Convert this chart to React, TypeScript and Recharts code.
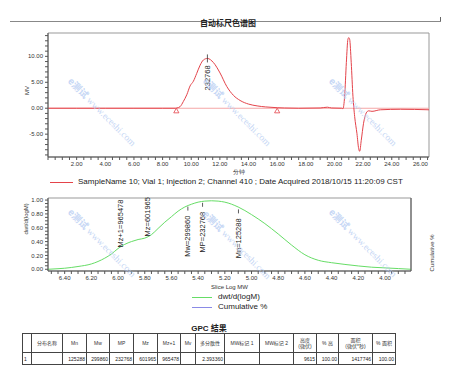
import React from 'react';
import { LineChart, Line, XAxis, YAxis, ReferenceArea, ReferenceLine, ReferenceDot } from 'recharts';

// chromatogram (minutes, mV)
const times = [0, 2, 4, 6, 8, 8.9, 9.0, 9.22, 9.45, 9.69, 9.92, 10.15, 10.38, 10.62, 10.85, 11.13, 11.55, 12.01, 12.48, 12.94, 13.41, 14.0, 14.6, 15.2, 16.0, 16.5, 17.5, 19.0, 19.5, 19.8, 20.5, 20.59, 20.71, 20.83, 20.94, 21.0, 21.06, 21.17, 21.29, 21.41, 21.57, 21.69, 21.76, 21.87, 22.03, 22.22, 22.38, 22.62, 23.2, 24.6, 26.6];
const mv = [0, 0, 0, 0, 0, 0, 0.05, 0.3, 1.3, 2.6, 4.3, 5.2, 6.7, 8.3, 9.3, 9.6, 8.8, 6.8, 4.2, 2.5, 1.5, 0.8, 0.45, 0.25, 0.1, 0.05, 0, 0.05, 0.2, 0.05, 0, -0.1, 2.3, 8.8, 13.3, 13.6, 13.3, 8.8, 2.3, -1.6, -4.9, -7.8, -8.3, -6.2, -2.9, -0.9, -0.5, -0.6, -0.3, -0.2, -0.3];
const peakLabels = [{ time: 11.13, mv: 9.6, text: '232768' }];
const baselineMarks = [8.96, 16.0];
const sampleLegend = 'SampleName 10; Vial 1; Injection 2; Channel 410 ; Date Acquired 2018/10/15 11:20:09 CST';

// MW distribution
const logM = [6.525, 6.45, 6.4, 6.3, 6.2, 6.1, 6.05, 6.0, 5.95, 5.9, 5.85, 5.8, 5.75, 5.7, 5.65, 5.6, 5.55, 5.5, 5.45, 5.4, 5.35, 5.3, 5.25, 5.2, 5.1, 5.0, 4.9, 4.8, 4.7, 4.6, 4.5, 4.4, 4.3, 4.2, 4.1, 4.0, 3.9, 3.805];
const dwt = [0, 0.008, 0.015, 0.04, 0.077, 0.16, 0.22, 0.3, 0.36, 0.4, 0.43, 0.45, 0.5, 0.59, 0.68, 0.76, 0.84, 0.9, 0.94, 0.97, 0.985, 0.99, 0.985, 0.97, 0.9, 0.79, 0.66, 0.51, 0.35, 0.21, 0.13, 0.095, 0.07, 0.048, 0.03, 0.02, 0.01, 0];
const mwMarkers = [
  { name: 'Mz+1', value: 965478, height: 0.3, side: 'up' },
  { name: 'Mz', value: 601965, height: 0.46, side: 'up' },
  { name: 'Mw', value: 299860, height: 0.92, side: 'down' },
  { name: 'MP', value: 232768, height: 0.975, side: 'down' },
  { name: 'Mn', value: 125288, height: 0.88, side: 'down' },
];
const distLegend = [
  { label: 'dwt/d(logM)', color: '#66dd66' },
  { label: 'Cumulative %', color: '#8a8ae6' },
];

// GPC table
const tableHeaders = ['', '分布名称', 'Mn', 'Mw', 'MP', 'Mz', 'Mz+1', 'Mv', '多分散性', 'MW标记 1', 'MW标记 2', '高度\n(微伏)', '% 高', '面积\n(微伏*秒)', '% 面积'];
const tableRow = ['1', '', '125288', '299860', '232768', '601965', '965478', '', '2.393360', '', '', '9615', '100.00', '1417746', '100.00'];
const colWidths = [9, 31, 24, 23, 24, 24, 23, 15, 29, 35, 34, 23, 22, 34, 23];

const watermarks = [
  [70, 77], [205, 77], [331, 77],
  [70, 208], [205, 210], [331, 208],
];

const RED = '#e4434a';
const GREEN = '#66dd66';

const topData = times.map((t, i) => ({ t, mv: mv[i] }));
const bottomData = logM.map((m, i) => ({ m, dwt: dwt[i] }));

const topXTicks = Array.from({ length: 54 }, (_, i) => i * 0.5);
const topYTicks = Array.from({ length: 24 }, (_, i) => i - 9);
const botXTicks = Array.from({ length: 54 }, (_, i) => Math.round((3.85 + i * 0.05) * 100) / 100);
const botYTicks = Array.from({ length: 21 }, (_, i) => Math.round(i * 5) / 100);

const tickStyle = { fontSize: 6, fill: '#333' };

const fmtTopX = (v: number) => (v > 0 && Math.round(v * 10) % 20 === 0 ? v.toFixed(2) : '');
const fmtTopY = (v: number) => (v % 5 === 0 ? v.toFixed(2) : '');
const fmtBotX = (v: number) => (Math.round(v * 100) % 20 === 0 ? v.toFixed(2) : '');
const fmtBotY = (v: number) => (Math.round(v * 100) % 20 === 0 ? v.toFixed(2) : '');

const peakShape = (text: string) => (props: any) => {
  const { cx, cy } = props;
  return (
    <g>
      <line x1={cx} y1={cy - 4} x2={cx} y2={cy + 4} stroke="#333" strokeWidth={0.8} />
      <text transform={`translate(${cx},${cy + 7}) rotate(-90)`} textAnchor="end" dominantBaseline="central" fontSize={7.5} fill="#222">
        {text}
      </text>
    </g>
  );
};

const triangleShape = (props: any) => {
  const { cx, cy } = props;
  return <path d={`M${cx},${cy} L${cx - 2.6},${cy + 4.6} L${cx + 2.6},${cy + 4.6} Z`} fill="#fff" stroke={RED} strokeWidth={0.8} />;
};

const mwShape = (text: string, side: string) => (props: any) => {
  const { cx, cy } = props;
  if (side === 'up') {
    return (
      <text transform={`translate(${cx},${cy - 1}) rotate(-90)`} textAnchor="start" dominantBaseline="central" fontSize={7.5} fill="#222">
        {text}
      </text>
    );
  }
  return (
    <g>
      <line x1={cx} y1={cy + 1} x2={cx} y2={cy + 5} stroke="#333" strokeWidth={0.8} />
      <text transform={`translate(${cx},${cy + 10}) rotate(-90)`} textAnchor="end" dominantBaseline="central" fontSize={7.5} fill="#222">
        {text}
      </text>
    </g>
  );
};

const Watermark = ({ x, y }: { x: number; y: number }) => (
  <div
    style={{
      position: 'absolute', left: x, top: y - 5, whiteSpace: 'nowrap', fontSize: 9.5,
      fontFamily: '"Liberation Serif", serif', color: '#b3caf2', opacity: 0.75,
      transform: 'rotate(45deg)', transformOrigin: '0 50%', pointerEvents: 'none',
    }}
  >
    <span style={{ fontFamily: '"Noto Sans CJK SC", sans-serif', fontWeight: 700 }}>e测试</span> www.eceshi.com
  </div>
);

const App = () => {
  return (
    <div style={{ position: 'absolute', left: 0, top: 0, width: 452, height: 379, background: '#fff', overflow: 'hidden', fontFamily: '"Liberation Sans", Arial, sans-serif', color: '#222' }}>
      {/* header rule and title */}
      <div style={{ position: 'absolute', left: 10, top: 21, width: 431, height: 0, borderTop: '1px solid #888' }} />
      <div style={{ position: 'absolute', left: 440, top: 17, width: 0, height: 4, borderLeft: '1px solid #666' }} />
      <div style={{ position: 'absolute', left: 0, width: 456, top: 18, textAlign: 'center', fontSize: 8, fontWeight: 700, fontFamily: '"Noto Sans CJK SC", sans-serif', lineHeight: '10px' }}>
        自动标尺色谱图
      </div>

      <div style={{ position: 'absolute', left: 0, top: 0 }}>
        <LineChart width={452} height={178} data={topData} margin={{ top: 33, right: 23, bottom: 0, left: 18 }}>
          <XAxis dataKey="t" type="number" domain={[0, 26.6]} ticks={topXTicks} interval={0} tickFormatter={fmtTopX} tick={tickStyle} tickSize={3} stroke="#555" height={21}
            label={{ value: '分钟', position: 'insideBottom', offset: 4, fontSize: 6, fill: '#333' }} />
          <YAxis type="number" domain={[-9.4, 14.5]} ticks={topYTicks} interval={0} tickFormatter={fmtTopY} tick={tickStyle} tickSize={3} stroke="#555" width={30}
            label={{ value: 'MV', angle: -90, position: 'insideLeft', offset: 9, fontSize: 6, fill: '#333' }} />
          <ReferenceArea x1={0} x2={26.6} y1={-9.4} y2={14.5} fill="none" stroke="#999" />
          <ReferenceLine y={0} stroke="#f4a6a6" strokeWidth={1.2} />
          <Line dataKey="mv" type="monotone" stroke={RED} strokeWidth={1} dot={false} isAnimationActive={false} />
          {peakLabels.map((p) => (
            <ReferenceDot key={p.text} x={p.time} y={p.mv} r={0} shape={peakShape(p.text)} />
          ))}
          {baselineMarks.map((t) => (
            <ReferenceDot key={t} x={t} y={0} r={0} shape={triangleShape} />
          ))}
        </LineChart>
      </div>

      {/* top legend */}
      <div style={{ position: 'absolute', left: 50, top: 182, width: 23, borderTop: `1px solid ${RED}` }} />
      <div style={{ position: 'absolute', left: 78, top: 177, fontSize: 8, lineHeight: '10px', whiteSpace: 'nowrap' }}>{sampleLegend}</div>

      <div style={{ position: 'absolute', left: 0, top: 190 }}>
        <LineChart width={452} height={100} data={bottomData} margin={{ top: 8, right: 0, bottom: 0, left: 18 }}>
          <XAxis dataKey="m" type="number" reversed domain={[3.805, 6.525]} ticks={botXTicks} interval={0} tickFormatter={fmtBotX} tick={tickStyle} tickSize={3} stroke="#555" height={19}
            label={{ value: 'Slice Log MW', position: 'insideBottom', offset: 1, fontSize: 6, fill: '#333' }} />
          <YAxis yAxisId="left" type="number" domain={[-0.025, 1.03]} ticks={botYTicks} interval={0} tickFormatter={fmtBotY} tick={tickStyle} tickSize={3} stroke="#555" width={30}
            label={{ value: 'dwt/d(logM)', angle: -90, position: 'insideLeft', offset: 8, fontSize: 6, fill: '#333' }} />
          <YAxis yAxisId="right" orientation="right" type="number" domain={[-0.025, 1.03]} ticks={botYTicks} interval={0} tickFormatter={fmtBotY} tick={tickStyle} tickSize={3} stroke="#555" width={41}
            label={{ value: 'Cumulative %', angle: -90, position: 'insideRight', offset: 20, fontSize: 6, fill: '#333' }} />
          <ReferenceArea yAxisId="left" x1={3.805} x2={6.525} y1={-0.025} y2={1.03} fill="none" stroke="#999" />
          <Line yAxisId="left" dataKey="dwt" type="monotone" stroke={GREEN} strokeWidth={1} dot={false} isAnimationActive={false} />
          {mwMarkers.map((mk) => (
            <ReferenceDot key={mk.name} yAxisId="left" x={Math.log10(mk.value)} y={mk.height} r={0} shape={mwShape(`${mk.name}=${mk.value}`, mk.side)} />
          ))}
        </LineChart>
      </div>

      {/* distribution legend */}
      {distLegend.map((d, i) => (
        <React.Fragment key={d.label}>
          <div style={{ position: 'absolute', left: 192, top: 297 + i * 10, width: 20, borderTop: `1px solid ${d.color}` }} />
          <div style={{ position: 'absolute', left: 218, top: 292 + i * 10, fontSize: 8, lineHeight: '10px', whiteSpace: 'nowrap' }}>{d.label}</div>
        </React.Fragment>
      ))}

      {/* GPC results table */}
      <div style={{ position: 'absolute', left: 0, width: 418, top: 324, textAlign: 'center', fontSize: 8, fontWeight: 700, lineHeight: '10px', fontFamily: '"Liberation Sans", "Noto Sans CJK SC", sans-serif' }}>
        GPC 結果
      </div>
      <table style={{ position: 'absolute', left: 22, top: 333, borderCollapse: 'collapse', tableLayout: 'fixed', width: 373, fontSize: 5, lineHeight: '6px', fontFamily: '"Liberation Sans", "Noto Sans CJK SC", sans-serif' }}>
        <colgroup>
          {colWidths.map((w, i) => <col key={i} style={{ width: w }} />)}
        </colgroup>
        <tbody>
          <tr style={{ height: 19 }}>
            {tableHeaders.map((h, i) => (
              <td key={i} style={{ border: '1px solid #444', textAlign: 'center', padding: 0, whiteSpace: 'pre', color: '#333' }}>{h}</td>
            ))}
          </tr>
          <tr style={{ height: 12 }}>
            {tableRow.map((v, i) => (
              <td key={i} style={{ border: '1px solid #444', textAlign: i === 0 ? 'left' : 'right', padding: '0 1px', whiteSpace: 'nowrap', color: '#222' }}>{v}</td>
            ))}
          </tr>
        </tbody>
      </table>

      {watermarks.map(([x, y], i) => <Watermark key={i} x={x} y={y} />)}
    </div>
  );
};

export default App;
